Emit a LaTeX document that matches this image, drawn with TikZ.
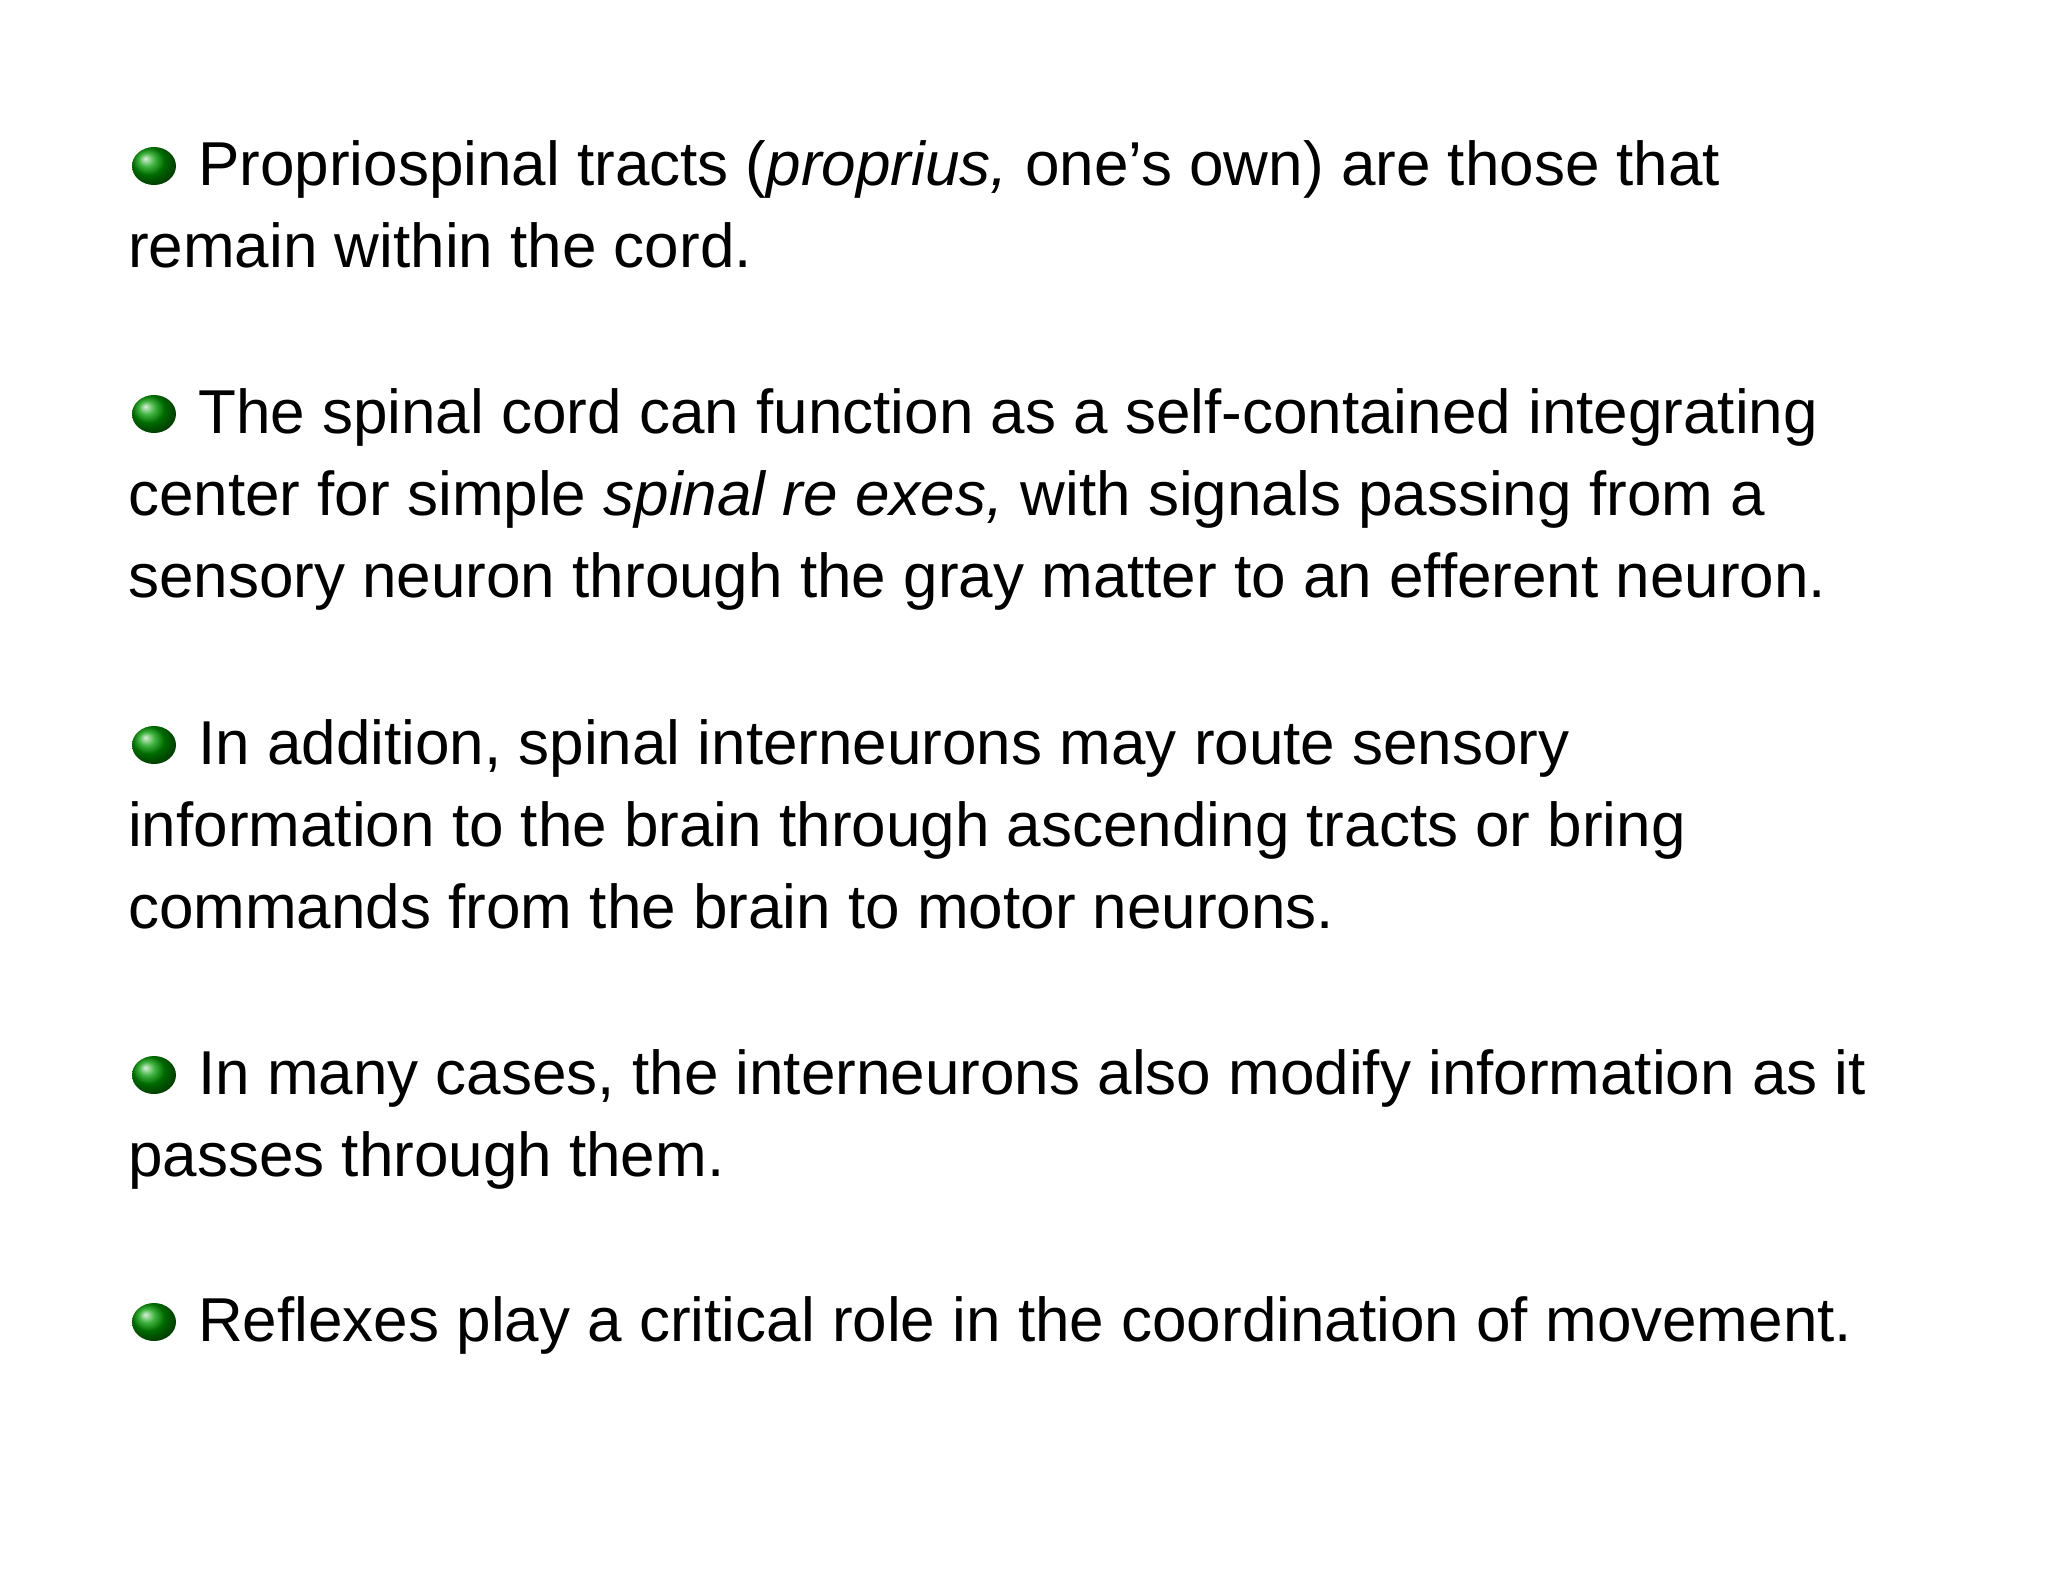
\documentclass[tikz,border=0pt]{standalone}
\usepackage{fontspec}
\setmainfont{Liberation Sans}
\begin{document}
\begin{tikzpicture}[x=1pt,y=1pt,
  txt/.style={anchor=base west,inner sep=0pt,font=\fontsize{62}{70}\selectfont}]
\useasboundingbox (0,0) rectangle (2048,-1582);
\fill[white] (0,0) rectangle (2048,-1582);
\foreach \y in {185,433,764,1094,1341}{
  \shade[ball color=green!60!black] (154,-\y+19) ellipse (22pt and 19pt);
}
\node[txt] (l1) at (198,-185) {Propriospinal tracts (\textit{proprius,} one’s own) are those that};
\node[txt] (l2) at (128,-267) {remain within the cord.};
\node[txt] (l3) at (198,-433) {The spinal cord can function as a self-contained integrating};
\node[txt] (l4) at (128,-515) {center for simple \textit{spinal re exes,} with signals passing from a};
\node[txt] (l5) at (128,-597) {sensory neuron through the gray matter to an efferent neuron.};
\node[txt] (l6) at (198,-764) {In addition, spinal interneurons may route sensory};
\node[txt] (l7) at (128,-846) {information to the brain through ascending tracts or bring};
\node[txt] (l8) at (128,-928) {commands from the brain to motor neurons.};
\node[txt] (l9) at (198,-1094) {In many cases, the interneurons also modify information as it};
\node[txt] (l10) at (128,-1176) {passes through them.};
\node[txt] (l11) at (198,-1341) {Reflexes play a critical role in the coordination of movement.};
\end{tikzpicture}
\end{document}
